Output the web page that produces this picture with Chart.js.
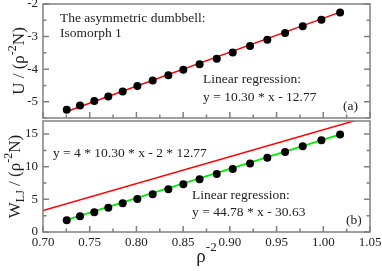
<!DOCTYPE html>
<html>
<head>
<meta charset="utf-8">
<script src="https://cdn.jsdelivr.net/npm/chart.js@4"></script>
<style>
  body { margin: 0; background: #fff; }
  #wrap { position: relative; width: 382px; height: 271px; }
  canvas { position: absolute; left: 0; }
</style>
</head>
<body>
<div id="wrap">
  <canvas id="chartA" width="382" height="122" style="top:0"></canvas>
  <canvas id="chartB" width="382" height="154" style="top:117px"></canvas>
</div>
<script>
// x values: rho^-2 for the 18 state points
const rhoInv2 = [0.7254, 0.7396, 0.7549, 0.7699, 0.7853, 0.8010, 0.8174, 0.8342, 0.8502,
                 0.8676, 0.8860, 0.9031, 0.9216, 0.9401, 0.9591, 0.9780, 0.9980, 1.0180];
// panel (a): potential energy
const energyU = [-5.25, -5.12, -4.98, -4.84, -4.69, -4.52, -4.35, -4.19, -4.02,
                 -3.85, -3.68, -3.49, -3.29, -3.10, -2.89, -2.68, -2.48, -2.26];
// panel (b): LJ virial
const virialW = [1.80, 2.40, 3.04, 3.70, 4.39, 5.05, 5.80, 6.55, 7.30,
                 8.07, 8.89, 9.64, 10.49, 11.39, 12.25, 13.15, 14.05, 14.95];

// regression / prediction lines (end points)
const fitUX = [0.7254, 1.018];
const fitUY = [-5.30, -2.25];
const fitWX = [0.7254, 1.018];
const fitWY = [1.85, 14.96];
const predWX = [0.70, 1.05];
const predWY = [3.30, 17.72];

// labelled ticks
const xTicks = [0.70, 0.75, 0.80, 0.85, 0.90, 0.95, 1.00, 1.05];
const uTicks = [-5, -4, -3, -2];
const wTicks = [0, 5, 10, 15];

const SERIF = '"Liberation Serif", "Times New Roman", serif';
const INK = '#222';
const FRAME = '#808080';

const inList = (list, v) => list.some(t => Math.abs(t - v) < 1e-6);
const pts = (xs, ys) => xs.map((x, i) => ({x: x, y: ys[i]}));

// draws text made of pieces (for super/subscripts)
function drawRich(ctx, parts, x, y, angle) {
  ctx.save();
  ctx.translate(x, y);
  ctx.rotate(angle);
  let total = 0;
  parts.forEach(p => {
    ctx.font = p.size + 'px ' + SERIF;
    p.w = ctx.measureText(p.text).width;
    total += p.w;
  });
  let cx = -total / 2;
  ctx.textAlign = 'left';
  ctx.textBaseline = 'alphabetic';
  ctx.fillStyle = INK;
  parts.forEach(p => {
    ctx.font = p.size + 'px ' + SERIF;
    ctx.fillText(p.text, cx, p.dy || 0);
    cx += p.w;
  });
  ctx.restore();
}

const framePlugin = {
  id: 'frame',
  afterDraw(chart, args, opts) {
    const {ctx, chartArea: a} = chart;
    const x = chart.scales.x, y = chart.scales.y;
    ctx.save();
    ctx.strokeStyle = FRAME;
    ctx.lineWidth = 1.5;
    ctx.strokeRect(a.left, a.top, a.right - a.left, a.bottom - a.top);
    ctx.beginPath();
    x.ticks.forEach(t => {
      const px = x.getPixelForValue(t.value);
      const len = inList(xTicks, t.value) ? 6 : 3.5;
      ctx.moveTo(px, a.bottom);
      ctx.lineTo(px, a.bottom - len);
    });
    y.ticks.forEach(t => {
      const py = y.getPixelForValue(t.value);
      const len = inList(opts.yMajor, t.value) ? 6 : 3.5;
      ctx.moveTo(a.left, py);
      ctx.lineTo(a.left + len, py);
      ctx.moveTo(a.right, py);
      ctx.lineTo(a.right - len, py);
    });
    ctx.stroke();

    // notes inside the plot
    ctx.fillStyle = INK;
    ctx.font = '13.5px ' + SERIF;
    ctx.textBaseline = 'middle';
    ctx.textAlign = 'left';
    opts.notes.forEach(n => {
      ctx.fillText(n[0], x.getPixelForValue(n[1]), y.getPixelForValue(n[2]));
    });

    // axis titles
    const midY = (a.top + a.bottom) / 2;
    drawRich(ctx, opts.yTitle, opts.yTitleX, midY, -Math.PI / 2);
    if (opts.xTitle) {
      drawRich(ctx, opts.xTitle, (a.left + a.right) / 2, a.bottom + 30, 0);
    }
    ctx.restore();
  }
};

function baseScales(yMin, yMax, yStep, yMajor, showX, xHeight) {
  return {
    x: {
      type: 'linear', min: 0.70, max: 1.05,
      grid: {display: false, drawTicks: false},
      border: {display: false},
      ticks: {
        display: showX, stepSize: 0.025, autoSkip: false, maxRotation: 0, padding: 3,
        maxTicksLimit: 100, includeBounds: false,
        color: INK, font: {family: SERIF, size: 13},
        callback: v => inList(xTicks, v) ? v.toFixed(2) : ''
      },
      afterFit: s => { s.height = xHeight; s.paddingLeft = 0; s.paddingRight = 0; }
    },
    y: {
      type: 'linear', min: yMin, max: yMax,
      grid: {display: false, drawTicks: false},
      border: {display: false},
      ticks: {
        stepSize: yStep, autoSkip: false, padding: 5, maxTicksLimit: 100, includeBounds: false,
        color: INK, font: {family: SERIF, size: 13},
        callback: v => inList(yMajor, v) ? String(v) : ''
      },
      afterFit: s => { s.width = 43; s.paddingTop = 0; s.paddingBottom = 0; }
    }
  };
}

new Chart(document.getElementById('chartA'), {
  type: 'scatter',
  data: {
    datasets: [
      {data: pts(rhoInv2, energyU), pointRadius: 4, pointBackgroundColor: '#000', pointBorderColor: '#000', pointBorderWidth: 0},
      {data: pts(fitUX, fitUY), showLine: true, pointRadius: 0, borderColor: '#ff0000', borderWidth: 1.5}
    ]
  },
  options: {
    responsive: false,
    animation: false,
    layout: {padding: {top: 4, right: 12, bottom: 0, left: 0}},
    plugins: {
      legend: {display: false},
      tooltip: {enabled: false},
      frame: {
        yMajor: uTicks,
        yTitleX: 24,
        yTitle: [
          {text: 'U / (\u03c1', size: 17},
          {text: '-2', size: 12, dy: -8},
          {text: 'N)', size: 17}
        ],
        notes: [
          ['The asymmetric dumbbell:', 0.7182, -2.455],
          ['Isomorph 1', 0.7182, -2.90],
          ['Linear regression:', 0.8713, -4.33],
          ['y = 10.30 * x - 12.77', 0.8713, -4.88],
          ['(a)', 1.0212, -5.15]
        ]
      }
    },
    scales: baseScales(-5.5, -2, 0.5, uTicks, false, 3)
  },
  plugins: [framePlugin]
});

new Chart(document.getElementById('chartB'), {
  type: 'scatter',
  data: {
    datasets: [
      {data: pts(rhoInv2, virialW), pointRadius: 4, pointBackgroundColor: '#000', pointBorderColor: '#000', pointBorderWidth: 0},
      {data: pts(fitWX, fitWY), showLine: true, pointRadius: 0, borderColor: '#00ee00', borderWidth: 1.8},
      {data: pts(predWX, predWY), showLine: true, pointRadius: 0, borderColor: '#ff0000', borderWidth: 1.5}
    ]
  },
  options: {
    responsive: false,
    animation: false,
    layout: {padding: {top: 2, right: 12, bottom: 0, left: 0}},
    plugins: {
      legend: {display: false},
      tooltip: {enabled: false},
      frame: {
        yMajor: wTicks,
        yTitleX: 20,
        yTitle: [
          {text: 'W', size: 17},
          {text: 'LJ', size: 12, dy: 4},
          {text: ' / (\u03c1', size: 17},
          {text: '-2', size: 12, dy: -8},
          {text: 'N)', size: 17}
        ],
        xTitle: [
          {text: '\u03c1', size: 19},
          {text: '-2', size: 13, dy: -11}
        ],
        notes: [
          ['y = 4 * 10.30 * x - 2 * 12.77', 0.7107, 12.0],
          ['Linear regression:', 0.8595, 5.55],
          ['y = 44.78 * x - 30.63', 0.8595, 3.07],
          ['(b)', 1.0244, 1.80]
        ]
      }
    },
    scales: baseScales(0, 17, 2.5, wTicks, true, 39)
  },
  plugins: [framePlugin]
});
</script>
</body>
</html>
